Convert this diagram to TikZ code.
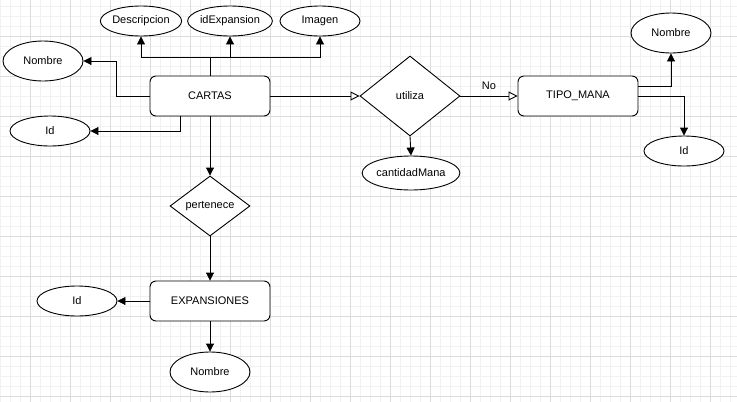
\documentclass[tikz,border=0pt]{standalone}
\usepackage{fontspec}
\setmainfont{Liberation Sans}
\usetikzlibrary{shapes.geometric,arrows.meta,calc}
\definecolor{gridmaj}{HTML}{DCDCDC}
\definecolor{gridmin}{HTML}{F1F1F1}
\begin{document}
\begin{tikzpicture}[x=1pt,y=-1pt,line width=0.9pt,
  lbl/.style={font=\fontsize{11}{13}\selectfont},
  ent/.style={lbl,draw,rounded corners=6pt,minimum width=120pt,minimum height=40pt,inner sep=0pt,fill=white},
  attr/.style={lbl,draw,ellipse,minimum width=80pt,minimum height=30pt,inner sep=0pt,fill=white},
  rel/.style={lbl,draw,diamond,inner sep=0pt,fill=white},
  arr/.style={-{Triangle[length=8pt,width=8pt]}},
  oarr/.style={-{Triangle[open,length=9pt,width=9pt,fill=white]}}]
\useasboundingbox (0,0) rectangle (737,402);
\fill[white] (0,0) rectangle (737,402);
\foreach \x in {0,10,...,730} \draw[gridmin,line width=0.8pt] (\x,0) -- (\x,402);
\foreach \y in {6,16,...,396} \draw[gridmin,line width=0.8pt] (0,\y) -- (737,\y);
\foreach \x in {30,70,...,710} \draw[gridmaj,line width=0.8pt] (\x,0) -- (\x,402);
\foreach \y in {36,76,...,396} \draw[gridmaj,line width=0.8pt] (0,\y) -- (737,\y);

\node[ent] (cartas) at (210,96) {CARTAS};
\node[attr] (desc) at (141,21) {Descripcion};
\node[attr] (idexp) at (230,21) {idExpansion};
\node[attr] (img) at (320,21) {Imagen};
\node[attr,minimum height=40pt] (nomc) at (43,61) {Nombre};
\node[attr] (idc) at (50,131) {Id};
\node[rel,minimum width=80pt,minimum height=60pt] (pert) at (210,206) {pertenece};
\node[ent] (exp) at (210,301) {EXPANSIONES};
\node[attr] (ide) at (77,301) {Id};
\node[attr,minimum height=40pt] (nome) at (210,372) {Nombre};
\node[rel,minimum width=100pt,minimum height=80pt] (util) at (410,96) {utiliza};
\node[attr,minimum width=90pt,minimum height=34pt] (cant) at (411,173) {cantidadMana};
\node[ent] (tipo) at (578,96) {TIPO\_MANA};
\node[attr,minimum height=40pt] (nomt) at (671,33) {Nombre};
\node[attr] (idt) at (684,151) {Id};

\coordinate (j) at (210,57);
\draw (cartas.north) -- (j);
\draw[arr] (j) -| (desc.south);
\draw[arr] (j) -| (idexp.south);
\draw[arr] (j) -| (img.south);
\draw[arr] (cartas.west) -- ++(-33,0) |- (nomc.east);
\draw[arr] ([xshift=-30pt]cartas.south) |- (idc.east);
\draw[arr] (cartas.south) -- (pert.north);
\draw[arr] (pert.south) -- (exp.north);
\draw[arr] (exp.west) -- (ide.east);
\draw[arr] (exp.south) -- (nome.north);
\draw[oarr] (cartas.east) -- (util.west);
\draw[oarr] (util.east) -- node[lbl,above=3pt] {No} (tipo.west);
\draw[arr] (util.south) -- (cant.north);
\draw[arr] ($(tipo.east)+(0,-10)$) -| (nomt.south);
\draw[arr] (tipo.east) -| (idt.north);
\end{tikzpicture}
\end{document}
